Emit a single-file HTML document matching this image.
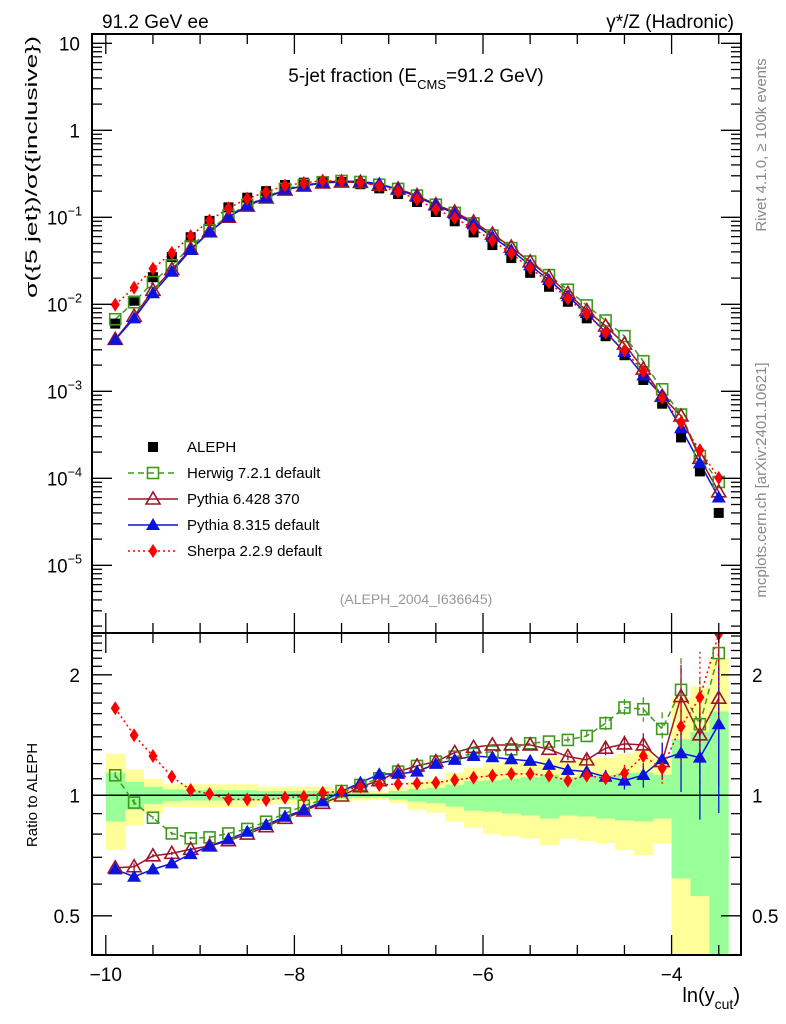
<!DOCTYPE html>
<html><head><meta charset="utf-8"><style>
html,body{margin:0;padding:0;background:#fff;}
svg{display:block;font-family:"Liberation Sans",sans-serif;}
</style></head><body>
<svg id="chart" width="786" height="1024" viewBox="0 0 786 1024" xmlns="http://www.w3.org/2000/svg">
<text x="102" y="28" font-size="19">91.2 GeV ee</text>
<text x="734" y="28" font-size="19" text-anchor="end">γ*/Z (Hadronic)</text>
<text x="416" y="82" font-size="19" text-anchor="middle">5-jet fraction (E<tspan font-size="13" dy="7">CMS</tspan><tspan dy="-7">=91.2 GeV)</tspan></text>
<text transform="translate(766,145) rotate(-90)" font-size="15" fill="#888" text-anchor="middle">Rivet 4.1.0, ≥ 100k events</text>
<text transform="translate(766,480) rotate(-90)" font-size="15" fill="#888" text-anchor="middle">mcplots.cern.ch [arXiv:2401.10621]</text>
<text transform="translate(37,167) rotate(-90)" font-size="17" text-anchor="middle" textLength="262" lengthAdjust="spacingAndGlyphs">σ({5 jet})/σ({inclusive})</text>
<text transform="translate(37,795) rotate(-90)" font-size="15" text-anchor="middle">Ratio to ALEPH</text>
<text x="740" y="1002" font-size="20" text-anchor="end">ln(y<tspan font-size="14" dy="7">cut</tspan><tspan dy="-7">)</tspan></text>
<text x="416" y="604" font-size="14" fill="#999" text-anchor="middle">(ALEPH_2004_I636645)</text>
<g id="bands"></g>
<g id="marks"></g>
<g id="axes"></g>
<g id="legend"></g>
</svg>
<script>
const xs = [-9.9,-9.7,-9.5,-9.3,-9.1,-8.9,-8.7,-8.5,-8.3,-8.1,-7.9,-7.7,-7.5,-7.3,-7.1,-6.9,-6.7,-6.5,-6.3,-6.1,-5.9,-5.7,-5.5,-5.3,-5.1,-4.9,-4.7,-4.5,-4.3,-4.1,-3.9,-3.7,-3.5];
const aleph = [0.006,0.011,0.0205,0.035,0.059,0.091,0.13,0.168,0.20,0.235,0.25,0.26,0.255,0.24,0.215,0.185,0.15,0.115,0.09,0.067,0.048,0.034,0.023,0.0159,0.0107,0.0069,0.0043,0.0026,0.00135,0.00072,0.000295,0.00012,0.00004];
const herwigRatio = [1.122,0.959,0.879,0.803,0.781,0.785,0.803,0.824,0.859,0.901,0.942,0.973,1.025,1.061,1.103,1.146,1.184,1.214,1.249,1.269,1.286,1.303,1.349,1.362,1.375,1.407,1.514,1.657,1.641,1.465,1.834,1.505,2.266];
const pythia6Ratio = [0.659,0.663,0.706,0.716,0.733,0.747,0.770,0.800,0.835,0.876,0.914,0.955,0.996,1.051,1.088,1.146,1.184,1.214,1.279,1.318,1.336,1.336,1.336,1.303,1.249,1.226,1.311,1.344,1.336,1.214,1.765,1.416,1.748];
const pythia8Ratio = [0.653,0.626,0.653,0.676,0.713,0.747,0.776,0.811,0.843,0.884,0.919,0.966,1.023,1.076,1.129,1.131,1.146,1.198,1.226,1.254,1.245,1.230,1.219,1.191,1.157,1.146,1.113,1.088,1.124,1.230,1.274,1.242,1.505];
const sherpaRatio = [1.65,1.413,1.254,1.113,1.031,1.008,0.977,0.977,0.973,0.987,0.992,1.015,1.023,1.051,1.061,1.067,1.071,1.076,1.092,1.107,1.120,1.131,1.131,1.120,1.088,1.120,1.103,1.135,1.254,1.168,1.485,1.756,2.53];
const statErr = [0.14,0.08,0.05,0.035,0.03,0.03,0.03,0.03,0.025,0.025,0.025,0.025,0.02,0.015,0.012,0.025,0.036,0.045,0.063,0.085,0.09,0.10,0.11,0.125,0.11,0.115,0.125,0.135,0.14,0.125,0.38,0.44,0.62];
const totErr = [0.27,0.16,0.10,0.065,0.065,0.065,0.065,0.065,0.05,0.05,0.05,0.05,0.04,0.03,0.025,0.045,0.081,0.095,0.14,0.17,0.20,0.21,0.22,0.25,0.22,0.23,0.24,0.27,0.29,0.24,0.75,0.87,1.2];
const mcErr = [0.02,0.02,0.01,0.01,0.01,0.01,0,0,0,0,0,0,0,0,0,0,0,0,0,0,0,0,0,0,0.02,0.03,0.04,0.05,0.07,0.1,0.2,0.3,0.4];
const xTicks = [-10,-8,-6,-4];
const yTickExp = [1,0,-1,-2,-3,-4,-5];
const rTicks = [2,1,0.5];

const NS='http://www.w3.org/2000/svg';
const L=92,R=741,T=34,MB=633,RB=955;
const X=v=>105.8+(v+10)*94.3;
const Y=v=>130.3-Math.log10(v)*87;
const RY=v=>795.3-Math.log2(v)*120.5;
function mk(tag,attrs,parent){const e=document.createElementNS(NS,tag);for(const k in attrs)e.setAttribute(k,attrs[k]);parent.appendChild(e);return e;}
const bands=document.getElementById('bands'),marks=document.getElementById('marks'),axes=document.getElementById('axes'),legend=document.getElementById('legend');

const defs=mk('defs',{},document.getElementById('chart'));
const c1=mk('clipPath',{id:'cm'},defs);mk('rect',{x:L,y:T,width:R-L,height:MB-T},c1);
const c2=mk('clipPath',{id:'cr'},defs);mk('rect',{x:L,y:MB,width:R-L,height:RB-MB},c2);
bands.setAttribute('clip-path','url(#cr)');

function band(errs,color,name){
  errs.forEach((e,i)=>{
    const lo=Math.max(1-e,0.2),hi=1+e;
    const r=mk('rect',{x:X(xs[i]-0.1),y:RY(hi),width:X(xs[i]+0.1)-X(xs[i]-0.1)+0.5,height:RY(lo)-RY(hi),fill:color},bands);
    
    
  });
}
band(totErr,'#ffff99','total-uncertainty-band');
band(statErr,'#99ff99','stat-uncertainty-band');
const one=mk('line',{x1:L,x2:R,y1:RY(1),y2:RY(1),stroke:'#000','stroke-width':1.5},bands);



function marker(g,type,x,y,color){
  let e;
  if(type==='sq')e=mk('rect',{x:x-5,y:y-5,width:10,height:10,fill:'#000'},g);
  else if(type==='osq')e=mk('rect',{x:x-5.5,y:y-5.5,width:11,height:11,fill:'none',stroke:color,'stroke-width':1.6},g);
  else if(type==='otri')e=mk('polygon',{points:`${x},${y-7} ${x-7},${y+5} ${x+7},${y+5}`,fill:'none',stroke:color,'stroke-width':1.6},g);
  else if(type==='tri')e=mk('polygon',{points:`${x},${y-7} ${x-7},${y+5} ${x+7},${y+5}`,fill:color},g);
  else e=mk('polygon',{points:`${x},${y-7} ${x-4.5},${y} ${x},${y+7} ${x+4.5},${y}`,fill:color},g);
  return e;
}
const series=[
 {name:'herwig',ratio:herwigRatio,color:'#3f9a1c',dash:'6,4',type:'osq',label:'Herwig 7.2.1 default'},
 {name:'pythia6',ratio:pythia6Ratio,color:'#9e1428',dash:'',type:'otri',label:'Pythia 6.428 370'},
 {name:'pythia8',ratio:pythia8Ratio,color:'#0a14dc',dash:'',type:'tri',label:'Pythia 8.315 default'},
 {name:'sherpa',ratio:sherpaRatio,color:'#ff0000',dash:'2,3',type:'dia',label:'Sherpa 2.2.9 default'}
];
const gm=mk('g',{'clip-path':'url(#cm)'},marks);
const gr=mk('g',{'clip-path':'url(#cr)'},marks);
series.forEach(s=>{
  const vals=s.ratio.map((r,i)=>r*aleph[i]);
  const pm=mk('polyline',{points:vals.map((v,i)=>X(xs[i])+','+Y(v)).join(' '),fill:'none',stroke:s.color,'stroke-width':1.5,'stroke-dasharray':s.dash},gm);
  
  
  const pr=mk('polyline',{points:s.ratio.map((v,i)=>X(xs[i])+','+RY(v)).join(' '),fill:'none',stroke:s.color,'stroke-width':1.5,'stroke-dasharray':s.dash},gr);
  
  
  s.ratio.forEach((r,i)=>{
    if(mcErr[i]>0){
      const el=mk('line',{x1:X(xs[i]),x2:X(xs[i]),y1:RY(r*(1+mcErr[i])),y2:RY(Math.max(r*(1-mcErr[i]),0.3)),stroke:s.color,'stroke-width':1.3,'stroke-dasharray':s.dash},gr);
      
      
    }
  });
});
aleph.forEach((v,i)=>{
  const e=marker(gm,'sq',X(xs[i]),Y(v),'#000');
  
  
});
series.forEach(s=>{
  s.ratio.forEach((r,i)=>{
    const e=marker(gm,s.type,X(xs[i]),Y(r*aleph[i]),s.color);
    
    
    const e2=marker(gr,s.type,X(xs[i]),RY(r),s.color);
    
    
  });
});

[[T,MB],[MB,RB]].forEach(([a,b],k)=>{
  const f=mk('rect',{x:L,y:a,width:R-L,height:b-a,fill:'none',stroke:'#000','stroke-width':2},axes);
  
  
});
for(let v=-10;v<=-3.5;v+=0.5){
  const major=Math.abs(v-Math.round(v))<1e-6&&Math.round(v)%2===0;
  const len=major?20:10;
  [[T,1],[MB,-1],[MB,1],[RB,-1]].forEach(([y0,d])=>mk('line',{x1:X(v),x2:X(v),y1:y0,y2:y0+d*len,stroke:'#000','stroke-width':1.3},axes));
}
xTicks.forEach(v=>{
  const t=mk('text',{x:X(v),y:981,'font-size':19,'text-anchor':'middle'},axes);
  t.textContent='\u2212'+Math.abs(v);
  
  
});
for(let ex=-6;ex<=1;ex++){
  for(let m=1;m<10;m++){
    const v=m*Math.pow(10,ex),y=Y(v);
    if(y<T||y>MB)continue;
    const len=m===1?20:10;
    mk('line',{x1:L,x2:L+len,y1:y,y2:y,stroke:'#000','stroke-width':1.3},axes);
    mk('line',{x1:R,x2:R-len,y1:y,y2:y,stroke:'#000','stroke-width':1.3},axes);
  }
}
yTickExp.forEach(ex=>{
  const y=Y(Math.pow(10,ex));
  const t=mk('text',{x:80,y:y+7,'font-size':19,'text-anchor':'end'},axes);
  
  
  if(ex===1)t.textContent='10';
  else if(ex===0)t.textContent='1';
  else{
    t.setAttribute('x',47);
    t.setAttribute('text-anchor','start');
    t.textContent='10';
    const s=mk('tspan',{'font-size':13,dy:-9},t);
    s.textContent='\u2212'+Math.abs(ex);
    t.setAttribute('textLength',35);
    t.setAttribute('lengthAdjust','spacingAndGlyphs');
  }
});
[0.4,0.5,0.6,0.7,0.8,0.9,1,1.1,1.2,1.3,1.4,1.5,1.6,1.7,1.8,1.9,2,2.1,2.2,2.3,2.4,2.5].forEach(v=>{
  const y=RY(v);if(y<MB||y>RB)return;
  const len=(v===0.5||v===1||v===2)?20:10;
  mk('line',{x1:L,x2:L+len,y1:y,y2:y,stroke:'#000','stroke-width':1.3},axes);
  mk('line',{x1:R,x2:R-len,y1:y,y2:y,stroke:'#000','stroke-width':1.3},axes);
});
rTicks.forEach(v=>{
  [[80,'end'],[752,'start']].forEach(([x,a])=>{
    const t=mk('text',{x:x,y:RY(v)+7,'font-size':19,'text-anchor':a},axes);
    t.textContent=String(v);
    
    
  });
});
const entries=[{type:'sq',color:'#000',dash:null,label:'ALEPH',name:'aleph'}].concat(series.map(s=>({type:s.type,color:s.color,dash:s.dash,label:s.label,name:s.name})));
entries.forEach((e,i)=>{
  const y=447+i*26;
  const g=mk('g',{},legend);
  
  
  if(e.dash!==null)mk('line',{x1:128,x2:178,y1:y,y2:y,stroke:e.color,'stroke-width':1.5,'stroke-dasharray':e.dash},g);
  marker(g,e.type,153,y,e.color);
  const t=mk('text',{x:187,y:y+5,'font-size':15},g);
  t.textContent=e.label;
});
</script>
</body></html>
